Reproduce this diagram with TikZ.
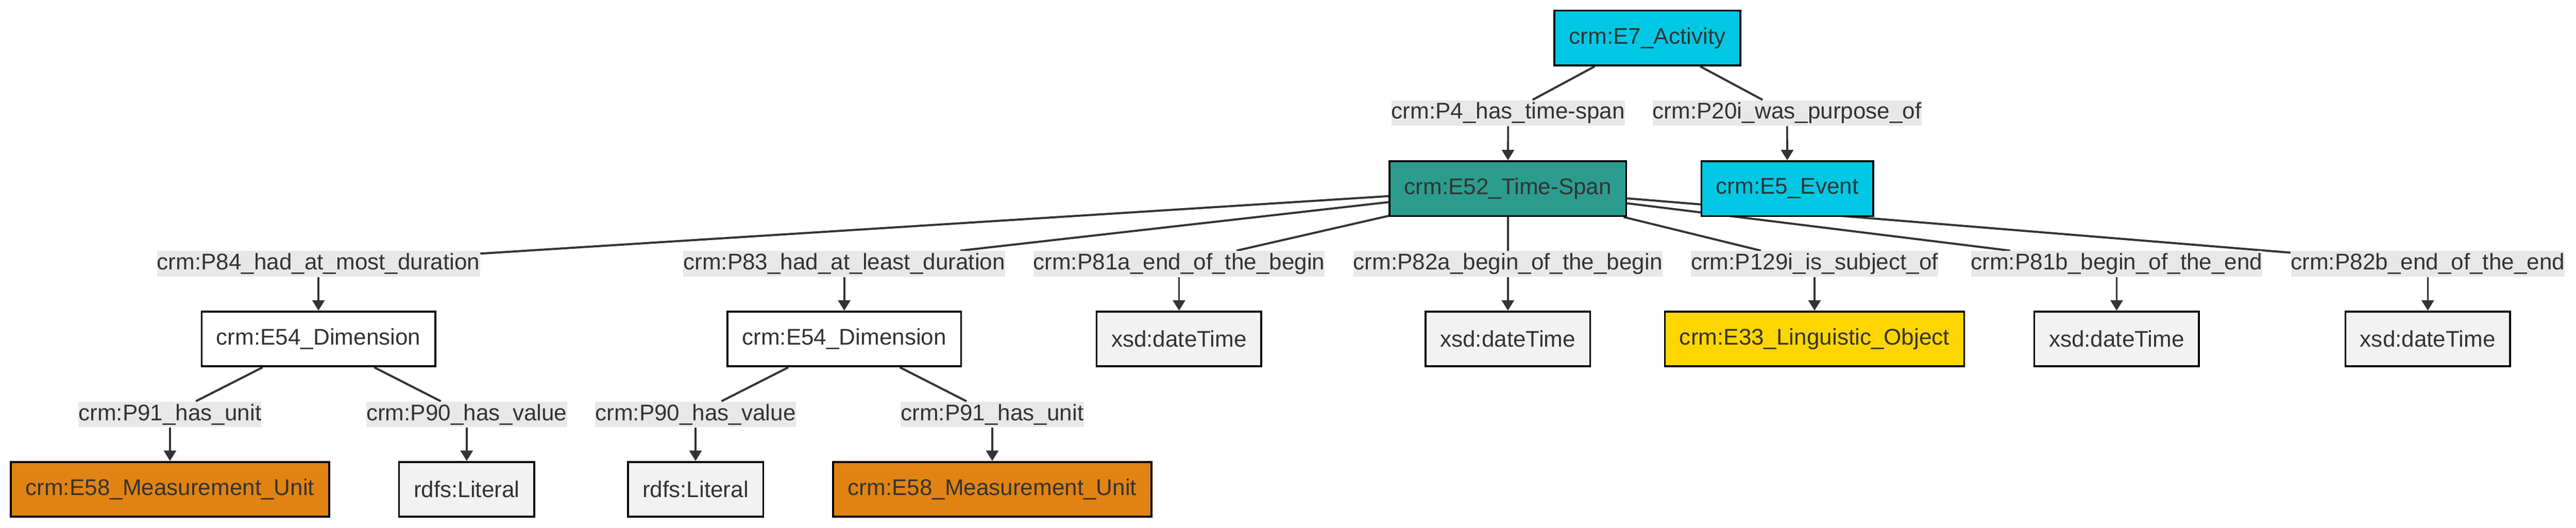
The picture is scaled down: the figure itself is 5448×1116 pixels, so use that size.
\documentclass[tikz,border=0pt]{standalone}
\usepackage{fontspec}
\setmainfont{Liberation Sans}
\usetikzlibrary{arrows.meta}
\pgfdeclarelayer{bg}
\pgfsetlayers{bg,main}
\definecolor{txt}{HTML}{333333}
\definecolor{lblbg}{HTML}{E8E8E8}
\definecolor{cyanE}{HTML}{00C8E4}
\definecolor{tealE}{HTML}{2C9C8F}
\definecolor{orangeE}{HTML}{E18312}
\definecolor{yellowE}{HTML}{FDD600}
\definecolor{litE}{HTML}{F2F2F2}
\begin{document}
\begin{tikzpicture}[x=0.25pt,y=-0.25pt,
  every node/.style={font=\fontsize{12pt}{13.5pt}\selectfont, text=txt},
  lbl/.style={fill=lblbg, inner xsep=0pt, inner ysep=0pt, minimum height=13.5pt},
  box/.style={draw=black, line width=1pt, inner xsep=7.75pt, inner ysep=0pt, minimum height=29pt},
  conn/.style={draw=txt, line width=1.1pt},
  arr/.style={draw=txt, line width=1pt, -{Triangle[length=5.5pt,width=6.5pt]}}]
\useasboundingbox (0,0) rectangle (5448,1116);
% row 0 / 1
\node[box, fill=cyanE] (E7) at (3484,80.5) {crm:E7\_Activity};
\node[lbl] (P4) at (3189.5,239) {crm:P4\_has\_time-span};
\node[lbl] (P20) at (3779.5,239) {crm:P20i\_was\_purpose\_of};
\node[box, fill=tealE] (E52) at (3189,399) {crm:E52\_Time-Span};
\node[box, fill=cyanE] (E5) at (3780,399) {crm:E5\_Event};
% row 2
\node[lbl] (P84) at (673.5,558) {crm:P84\_had\_at\_most\_duration};
\node[lbl] (P83) at (1785.5,558) {crm:P83\_had\_at\_least\_duration};
\node[lbl] (P81a) at (2493.5,558) {crm:P81a\_end\_of\_the\_begin};
\node[lbl] (P82a) at (3189,558) {crm:P82a\_begin\_of\_the\_begin};
\node[lbl] (P129) at (3837.5,558) {crm:P129i\_is\_subject\_of};
\node[lbl] (P81b) at (4476.5,558) {crm:P81b\_begin\_of\_the\_end};
\node[lbl] (P82b) at (5134.5,558) {crm:P82b\_end\_of\_the\_end};
\node[box, fill=white] (D1) at (673.5,717) {crm:E54\_Dimension};
\node[box, fill=white] (D2) at (1785.5,717) {crm:E54\_Dimension};
\node[box, fill=litE] (X1) at (2493.5,717) {xsd:dateTime};
\node[box, fill=litE] (X2) at (3189,717) {xsd:dateTime};
\node[box, fill=yellowE] (E33) at (3837.5,717) {crm:E33\_Linguistic\_Object};
\node[box, fill=litE] (X3) at (4476.5,717) {xsd:dateTime};
\node[box, fill=litE] (X4) at (5134.5,717) {xsd:dateTime};
% row 3
\node[lbl] (P91a) at (359.5,876.5) {crm:P91\_has\_unit};
\node[lbl] (P90a) at (987,876.5) {crm:P90\_has\_value};
\node[lbl] (P90b) at (1471,876.5) {crm:P90\_has\_value};
\node[lbl] (P91b) at (2098.5,876.5) {crm:P91\_has\_unit};
\node[box, fill=orangeE] (U1) at (359.5,1035) {crm:E58\_Measurement\_Unit};
\node[box, fill=litE] (L1) at (987,1035) {rdfs:Literal};
\node[box, fill=litE] (L2) at (1471,1035) {rdfs:Literal};
\node[box, fill=orangeE] (U2) at (2098.5,1035) {crm:E58\_Measurement\_Unit};
% connectors
\begin{pgfonlayer}{bg}
\fill[white] (0,0) rectangle (5448,1116);
\draw[conn] (E7) -- (P4);
\draw[conn] (E7) -- (P20);
\foreach \l in {P84,P83,P81a,P82a,P129,P81b,P82b}
  \draw[conn] (E52) -- (\l);
\draw[conn] (D1) -- (P91a);
\draw[conn] (D1) -- (P90a);
\draw[conn] (D2) -- (P90b);
\draw[conn] (D2) -- (P91b);
\end{pgfonlayer}
\draw[arr] (P4) -- (E52);
\draw[arr] (P20) -- (E5);
\draw[arr] (P84) -- (D1);
\draw[arr] (P83) -- (D2);
\draw[arr] (P81a) -- (X1);
\draw[arr] (P82a) -- (X2);
\draw[arr] (P129) -- (E33);
\draw[arr] (P81b) -- (X3);
\draw[arr] (P82b) -- (X4);
\draw[arr] (P91a) -- (U1);
\draw[arr] (P90a) -- (L1);
\draw[arr] (P90b) -- (L2);
\draw[arr] (P91b) -- (U2);
\end{tikzpicture}
\end{document}
